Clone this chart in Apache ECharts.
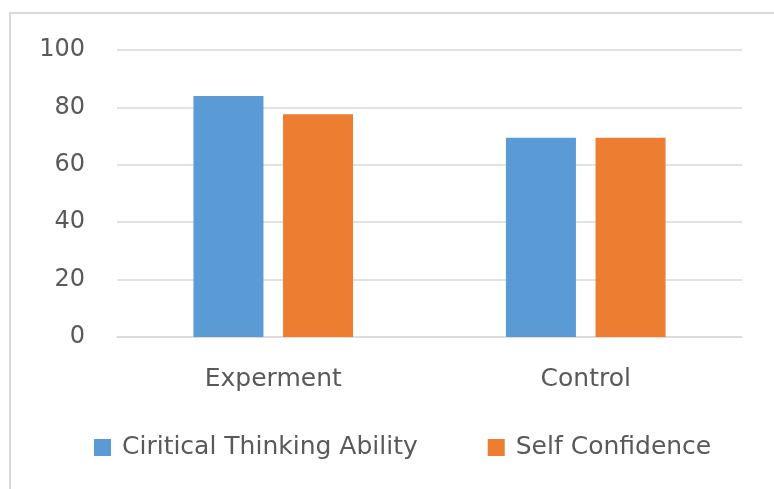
<!DOCTYPE html>
<html>
<head>
<meta charset="utf-8">
<script src="https://cdn.jsdelivr.net/npm/echarts@6/dist/echarts.min.js"></script>
<style>
  html, body { margin: 0; padding: 0; background: #fff; }
  #chart { width: 774px; height: 489px; }
</style>
</head>
<body>
<div id="chart"></div>
<script>
const categories = ['Experment', 'Control'];
const seriesNames = ['Ciritical Thinking Ability', 'Self Confidence'];
const criticalThinking = [84, 69.4];
const selfConfidence = [77.6, 69.4];
const yTicks = { min: 0, max: 100, interval: 20 };

const FONT = 'DejaVu Sans';
const TEXT = '#595959';
const GRID = '#d9d9d9';

const chart = echarts.init(document.getElementById('chart'));
chart.setOption({
  animation: false,
  backgroundColor: '#ffffff',
  textStyle: { fontFamily: FONT },
  graphic: [{
    type: 'rect',
    shape: { x: 10, y: 13, width: 800, height: 520 },
    style: { fill: 'none', stroke: GRID, lineWidth: 2 },
    silent: true
  }],
  grid: { left: 117, right: 32, top: 50, bottom: 152, containLabel: false },
  legend: {
    left: 89, top: 430,
    itemWidth: 17, itemHeight: 17, itemGap: 70,
    icon: 'rect',
    textStyle: { fontFamily: FONT, fontSize: 25, color: TEXT, padding: [0, 0, 0, 6] },
    data: seriesNames
  },
  xAxis: {
    type: 'category',
    data: categories,
    axisLine: { lineStyle: { color: GRID, width: 1.5 } },
    axisTick: { show: false },
    axisLabel: { fontFamily: FONT, fontSize: 25, color: TEXT, margin: 30 }
  },
  yAxis: {
    type: 'value',
    min: yTicks.min, max: yTicks.max, interval: yTicks.interval,
    axisLine: { show: false },
    axisTick: { show: false },
    splitLine: { lineStyle: { color: GRID, width: 1.5 } },
    axisLabel: { fontFamily: FONT, fontSize: 24, color: TEXT, margin: 32 }
  },
  series: [
    { name: seriesNames[0], type: 'bar', data: criticalThinking, barWidth: 70, barGap: '28%',
      itemStyle: { color: '#5b9bd5' } },
    { name: seriesNames[1], type: 'bar', data: selfConfidence, barWidth: 70, barGap: '28%',
      itemStyle: { color: '#ed7d31' } }
  ]
});
</script>
</body>
</html>
